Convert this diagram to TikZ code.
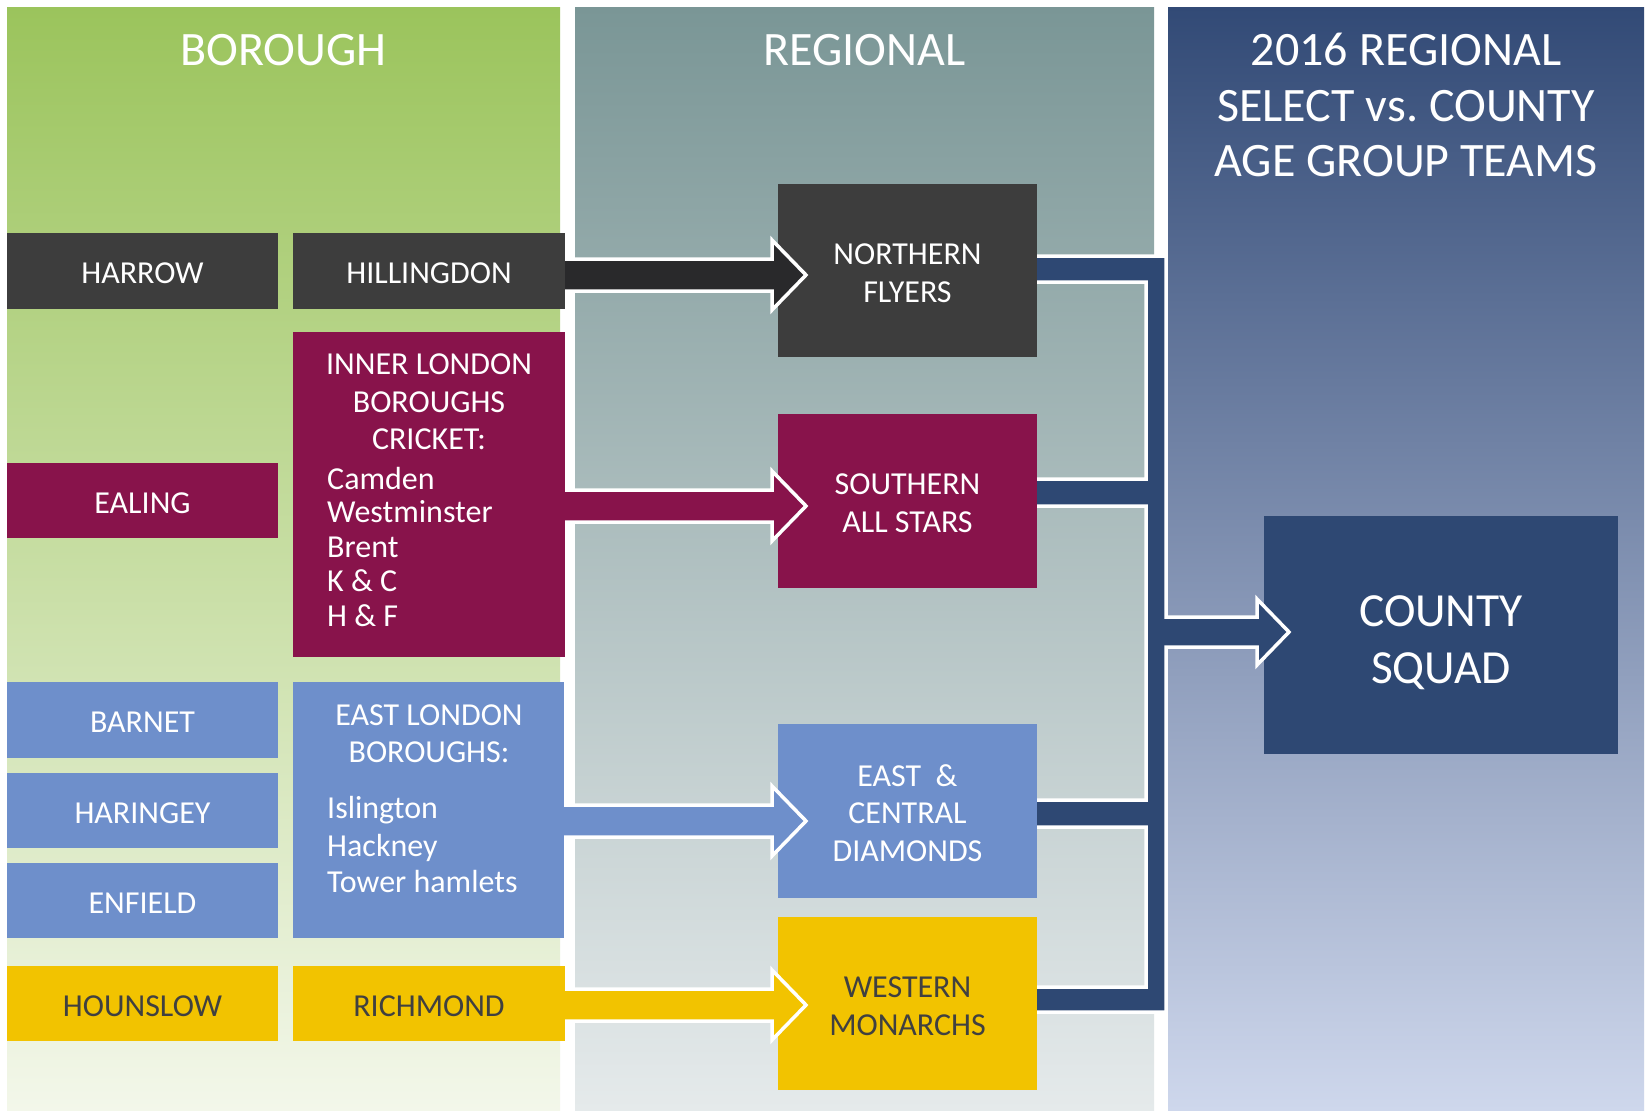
\documentclass[tikz,border=0pt]{standalone}
\usepackage{fontspec}
\setmainfont{Carlito}
\usetikzlibrary{calc}
\frenchspacing
\definecolor{grnT}{RGB}{155,196,92}
\definecolor{grnB}{RGB}{243,247,234}
\definecolor{regT}{RGB}{122,150,150}
\definecolor{regB}{RGB}{229,234,235}
\definecolor{bluT}{RGB}{50,74,118}
\definecolor{bluB}{RGB}{206,215,236}
\definecolor{darkbox}{RGB}{61,61,61}
\definecolor{darkarrow}{RGB}{41,41,43}
\definecolor{maroon}{RGB}{136,19,75}
\definecolor{cornflower}{RGB}{110,143,203}
\definecolor{gold}{RGB}{242,195,0}
\definecolor{navy}{RGB}{46,72,115}
\definecolor{darktext}{RGB}{64,64,64}
\newcommand\inarrow[4]{%
  \path[fill=#4, draw=white, line width=3.5pt, line join=miter]
    let \p1=(#1.east), \p2=(#2.west) in
    (\x1,{-#3pt+16pt}) -- ({\x2-6pt},{-#3pt+16pt}) -- ({\x2-6pt},{-#3pt+35pt})
    -- ({\x2+28pt},{-#3pt}) -- ({\x2-6pt},{-#3pt-35pt}) -- ({\x2-6pt},{-#3pt-16pt})
    -- (\x1,{-#3pt-16pt});}
% #1 text style, #2 name, #3 box node, #4 baseline offset below centre, #5 text
\newcommand\boxline[5]{\node[txt, anchor=base, #1] (#2) at ([yshift=-#4pt]#3.center) {#5};}
\begin{document}
\begin{tikzpicture}[x=1pt,y=-1pt,
  panel/.style={rectangle, inner sep=0pt, outer sep=0pt, anchor=north west, minimum height=1103pt},
  title/.style={text=white, font=\fontsize{48}{56}\selectfont, inner sep=0pt, anchor=base},
  box/.style={rectangle, inner sep=0pt, outer sep=0pt, anchor=north west},
  txt/.style={text=white, font=\fontsize{32}{37.5}\selectfont, inner sep=0pt},
  dk/.style={text=darktext},
  big/.style={font=\fontsize{47.5}{57}\selectfont},
  leftbox/.style={box, minimum width=271pt, minimum height=75pt},
  midbox/.style={box, minimum width=272pt, minimum height=75pt},
  regbox/.style={box, minimum width=259pt, minimum height=173pt}]
\useasboundingbox (0,0) rectangle (1646,1111);
\fill[white] (0,0) rectangle (1646,1111);
% panels
\node[panel, minimum width=553pt, top color=grnT, bottom color=grnB] (pb) at (7,7) {};
\node[panel, minimum width=579pt, top color=regT, bottom color=regB] (pr) at (575,7) {};
\node[panel, minimum width=476pt, top color=bluT, bottom color=bluB] (pc) at (1168,7) {};
\node[title] (tb) at (283.5,65) {BOROUGH};
\node[title] (tr) at (864.5,65) {REGIONAL};
\node[title] (tc1) at (1406,65) {2016 REGIONAL};
\node[title] (tc2) at (1406,121) {SELECT vs. COUNTY};
\node[title] (tc3) at (1406,176) {AGE GROUP TEAMS};
% borough boxes
\node[leftbox, fill=darkbox, minimum height=76pt] (harrow) at (7,233) {};
\node[midbox, fill=darkbox, minimum height=76pt] (hill) at (293,233) {};
\node[leftbox, fill=maroon] (ealing) at (7,463) {};
\node[midbox, fill=maroon, minimum height=325pt] (inner) at (293,332) {};
\node[leftbox, fill=cornflower, minimum height=76pt] (barnet) at (7,682) {};
\node[leftbox, fill=cornflower] (haringey) at (7,773) {};
\node[leftbox, fill=cornflower] (enfield) at (7,863) {};
\node[box, fill=cornflower, minimum width=271pt, minimum height=256pt] (east) at (293,682) {};
\node[leftbox, fill=gold] (hounslow) at (7,966) {};
\node[midbox, fill=gold] (richmond) at (293,966) {};
\boxline{}{tharrow}{harrow}{12.7}{HARROW}
\boxline{}{thill}{hill}{12.7}{HILLINGDON}
\boxline{}{tealing}{ealing}{12.7}{EALING}
\boxline{}{tbarnet}{barnet}{12.7}{BARNET}
\boxline{}{tharingey}{haringey}{12.7}{HARINGEY}
\boxline{}{tenfield}{enfield}{12.7}{ENFIELD}
\boxline{dk}{thounslow}{hounslow}{12.7}{HOUNSLOW}
\boxline{dk}{trichmond}{richmond}{12.7}{RICHMOND}
% inner london text
\node[txt, anchor=base] (il1) at (429,374) {INNER LONDON};
\node[txt, anchor=base] (il2) at (429,412) {BOROUGHS};
\node[txt, anchor=base] (il3) at (429,449) {CRICKET:};
\node[txt, anchor=base west] (il4) at (327,489) {Camden};
\node[txt, anchor=base west] (il5) at (327,522) {Westminster};
\node[txt, anchor=base west] (il6) at (327,557) {Brent};
\node[txt, anchor=base west] (il7) at (327,591) {K \& C};
\node[txt, anchor=base west] (il8) at (327,626) {H \& F};
% east london text
\node[txt, anchor=base] (el1) at (429,725) {EAST LONDON};
\node[txt, anchor=base] (el2) at (429,762) {BOROUGHS:};
\node[txt, anchor=base west] (el3) at (327,818) {Islington};
\node[txt, anchor=base west] (el4) at (327,856) {Hackney};
\node[txt, anchor=base west] (el5) at (327,892) {Tower hamlets};
% regional boxes
\node[regbox, fill=darkbox] (nf) at (778,184) {};
\node[regbox, fill=maroon, minimum height=174pt] (sa) at (778,414) {};
\node[regbox, fill=cornflower, minimum height=174pt] (ec) at (778,724) {};
\node[regbox, fill=gold] (wm) at (778,917) {};
\boxline{}{tnf1}{nf}{-6.2}{NORTHERN}
\boxline{}{tnf2}{nf}{31.8}{FLYERS}
\boxline{}{tsa1}{sa}{-6.2}{SOUTHERN}
\boxline{}{tsa2}{sa}{31.8}{ALL STARS}
\boxline{}{tec1}{ec}{-24.8}{EAST~~\&}
\boxline{}{tec2}{ec}{12.7}{CENTRAL}
\boxline{}{tec3}{ec}{50.2}{DIAMONDS}
\boxline{dk}{twm1}{wm}{-6.2}{WESTERN}
\boxline{dk}{twm2}{wm}{31.8}{MONARCHS}
% county squad
\node[box, fill=navy, minimum width=354pt, minimum height=238pt] (cs) at (1264,516) {};
\boxline{big}{tcs1}{cs}{-9}{COUNTY}
\boxline{big}{tcs2}{cs}{48}{SQUAD}
% bracket connector
\fill[navy] (1037,256) -- (1166,256) -- (1166,617) -- (1257,617) -- (1257,599) -- (1289,632)
  -- (1257,665) -- (1257,647) -- (1166,647) -- (1166,1012) -- (1037,1012) -- (1037,987)
  -- (1146,987) -- (1146,827) -- (1037,827) -- (1037,800) -- (1146,800) -- (1146,506)
  -- (1037,506) -- (1037,479) -- (1146,479) -- (1146,282) -- (1037,282) -- cycle;
\draw[white, line width=3.5pt, line join=miter]
  (1037,256) -- (1166,256) -- (1166,617) -- (1257,617) -- (1257,599) -- (1289,632)
  -- (1257,665) -- (1257,647) -- (1166,647) -- (1166,1012) -- (1037,1012)
  (1037,987) -- (1146,987) -- (1146,827) -- (1037,827)
  (1037,800) -- (1146,800) -- (1146,506) -- (1037,506)
  (1037,479) -- (1146,479) -- (1146,282) -- (1037,282);
% input arrows
\inarrow{hill}{nf}{275}{darkarrow}
\inarrow{inner}{sa}{506}{maroon}
\inarrow{east}{ec}{821}{cornflower}
\inarrow{richmond}{wm}{1005}{gold}
\end{tikzpicture}
\end{document}
